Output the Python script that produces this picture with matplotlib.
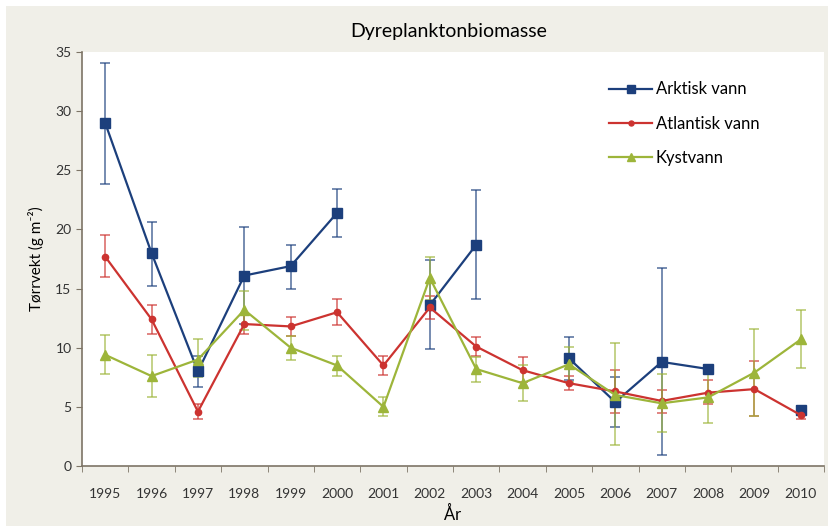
import matplotlib.pyplot as plt
import numpy as np
from matplotlib.patches import Rectangle

nan = np.nan
years = ['1995', '1996', '1997', '1998', '1999', '2000', '2001', '2002',
         '2003', '2004', '2005', '2006', '2007', '2008', '2009', '2010']

# Arktisk vann
ark = [29.0, 18.0, 8.0, 16.1, 16.9, 21.4, nan, 13.6, 18.7, nan, 9.1, 5.4, 8.8, 8.2, nan, 4.7]
ark_lo = [23.8, 15.2, 6.7, 12.0, 15.0, 19.4, nan, 9.9, 14.1, nan, 7.3, 3.3, 0.9, 8.2, nan, 4.3]
ark_hi = [34.1, 20.6, 9.3, 20.2, 18.7, 23.4, nan, 17.4, 23.3, nan, 10.9, 7.5, 16.7, 8.2, nan, 5.1]

# Atlantisk vann
atl = [17.7, 12.4, 4.6, 12.0, 11.8, 13.0, 8.5, 13.4, 10.1, 8.1, 7.0, 6.3, 5.5, 6.2, 6.5, 4.3]
atl_lo = [16.0, 11.2, 4.0, 11.2, 11.0, 11.9, 7.7, 12.4, 9.3, 7.1, 6.4, 4.5, 4.5, 5.2, 4.2, 4.0]
atl_hi = [19.5, 13.6, 5.2, 12.8, 12.6, 14.1, 9.3, 14.4, 10.9, 9.2, 7.6, 8.1, 6.4, 7.3, 8.9, 4.6]

# Kystvann
kyst = [9.4, 7.6, 9.0, 13.2, 10.0, 8.5, 5.0, 15.9, 8.2, 7.0, 8.6, 6.0, 5.3, 5.8, 7.9, 10.7]
kyst_lo = [7.8, 5.8, 7.5, 11.5, 9.0, 7.6, 4.2, 14.0, 7.1, 5.5, 7.1, 1.8, 2.9, 3.6, 4.2, 8.3]
kyst_hi = [11.1, 9.4, 10.7, 14.8, 11.0, 9.3, 5.85, 17.7, 9.2, 8.5, 10.1, 10.4, 7.8, 8.0, 11.6, 13.2]

plt.rcParams['font.family'] = ['Lato', 'DejaVu Sans']

fig = plt.figure(figsize=(8.31, 5.26), dpi=100)
fig.patch.set_facecolor('white')
fig.patches.append(Rectangle((6 / 831, 0), 822 / 831, 520 / 526, transform=fig.transFigure,
                             facecolor='#f0efe8', edgecolor='none', zorder=-10))
ax = fig.add_axes([82 / 831, 1 - 466 / 526, 742 / 831, 414 / 526])
ax.set_facecolor('white')

x = np.arange(len(years))
series = [
    ('Arktisk vann', ark, ark_lo, ark_hi, '#1c3f7c', 's', 7),
    ('Atlantisk vann', atl, atl_lo, atl_hi, '#cc3330', 'o', 4.5),
    ('Kystvann', kyst, kyst_lo, kyst_hi, '#9db53a', '^', 7),
]
for name, v, lo, hi, col, mk, ms in series:
    v = np.array(v)
    err = np.array([v - np.array(lo), np.array(hi) - v])
    ax.errorbar(x, v, yerr=err, fmt='none', ecolor=col, elinewidth=1.2, capsize=3.5,
                capthick=1.2, alpha=0.7, zorder=2)
    ax.plot(x, v, color=col, marker=mk, markersize=ms, lw=1.6, label=name, zorder=3)

ax.set_xlim(-0.5, len(years) - 0.5)
ax.set_ylim(0, 35)
ax.set_yticks(range(0, 36, 5))
ax.set_xticks(x)
ax.set_xticklabels(years)
ax.set_xticks(np.arange(-0.5, len(years), 1), minor=True)
ax.tick_params(axis='x', which='major', length=0, pad=16, labelsize=10, colors='#333333')
ax.tick_params(axis='x', which='minor', length=4, direction='out', color='#7d7466')
ax.tick_params(axis='y', length=4, direction='out', color='#7d7466', labelsize=10,
               labelcolor='#333333')
for s in ['top', 'right']:
    ax.spines[s].set_visible(False)
for s in ['left', 'bottom']:
    ax.spines[s].set_color('#7d7466')
    ax.spines[s].set_linewidth(1.2)

ax.set_xlabel('År', fontsize=12, labelpad=4)
ax.set_ylabel('Tørrvekt (g m⁻²)', fontsize=11, labelpad=8)
fig.text(0.54, 1 - 32 / 526, 'Dyreplanktonbiomasse', ha='center', va='center', fontsize=14)

ax.legend(loc='upper left', bbox_to_anchor=(0.69, 0.965), frameon=False, fontsize=12,
          handlelength=2.6, labelspacing=1.1, handletextpad=0.2, markerscale=0.8)

fig.savefig('out.png', dpi=100, facecolor=fig.get_facecolor())
